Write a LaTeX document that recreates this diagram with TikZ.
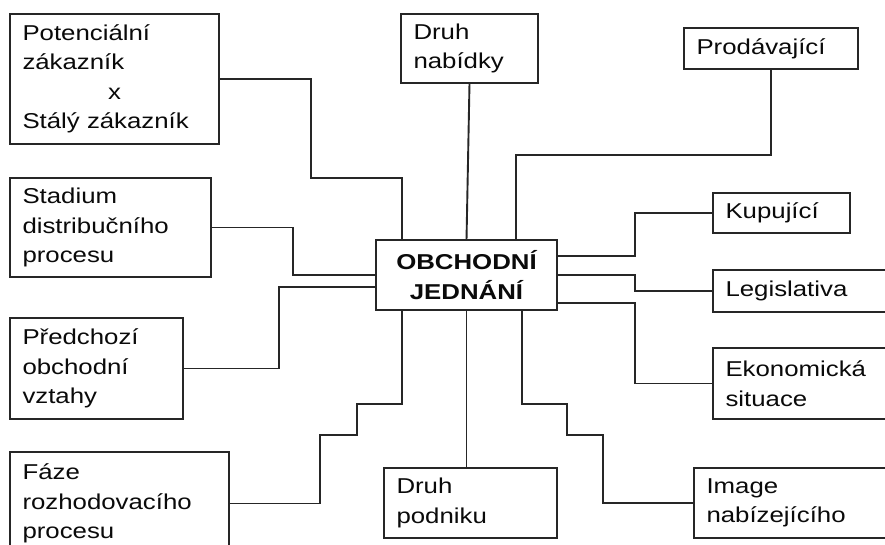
\documentclass[tikz,border=0pt]{standalone}
\usepackage{fontspec}
\setmainfont[FakeStretch=1.2]{Liberation Sans}
\usetikzlibrary{calc}
\definecolor{wire}{HTML}{262626}
\definecolor{ink}{HTML}{0A0A0A}

\begin{document}
\begin{tikzpicture}[x=1pt,y=-1pt,line join=miter]
  \tikzset{
    box/.style={draw=wire,line width=1.9pt,fill=white,anchor=north west,outer sep=0pt,inner xsep=12.5pt,inner ysep=0pt,align=left,text=ink,font=\fontsize{21.5}{29.5}\selectfont},
    hub/.style={box,align=center,font=\fontsize{21.5}{29.5}\selectfont\bfseries},
    link/.style={wire,line width=1.9pt}
  }
  \useasboundingbox (0,0) rectangle (885,545);

  % Left column.
  \node[box,text width=184pt,minimum height=130pt] (pz) at (10,14) {Potenciální\\zákazník\\\makebox[\linewidth]{x}\\Stálý zákazník};
  \node[box,text width=176pt,minimum height=99pt] (sd) at (10,178) {Stadium\\distribučního\\procesu};
  \node[box,text width=148pt,minimum height=101pt] (pr) at (10,318) {Předchozí\\obchodní\\vztahy};
  \node[box,text width=194pt,minimum height=103pt] (fr) at (10,452) {Fáze\\rozhodovacího\\procesu};

  % Middle.
  \node[box,text width=112pt,minimum height=69pt] (dn) at (401,14) {Druh\\nabídky};
  \node[hub,text width=156pt,minimum height=70pt] (ob) at (376,240) {OBCHODNÍ\\JEDNÁNÍ};
  \node[box,text width=148pt,minimum height=70pt] (dp) at (384,468) {Druh\\podniku};

  % Right column.
  \node[box,text width=149pt,minimum height=41pt] (pv) at (684,28) {Prodávající};
  \node[box,text width=112pt,minimum height=40pt] (ku) at (713,193) {Kupující};
  \node[box,text width=165pt,minimum height=42pt] (lg) at (713,270) {Legislativa};
  \node[box,text width=165pt,minimum height=71pt] (ek) at (713,348) {Ekonomická\\situace};
  \node[box,text width=175pt,minimum height=70pt] (im) at (694,468) {Image\\nabízejícího};

  % Connectors.
  \draw[link] (pz.east) -| (311,178) -| ($(ob.north west)+(26,0)$);
  \draw[link] (sd.east) -| (293,275) -- (ob.west);
  \draw[link] ($(ob.west)+(0,12)$) -| (279,368.5) -- (pr.east);
  \draw[link] ($(ob.south west)+(26,0)$) |- (357,404) |- (320,435) |- (fr.east);
  \draw[link] (dn.south) -- (ob.north);
  \draw[link] (ob.south) -- (ob.south |- dp.north);
  \draw[link] (pv.south) -- ++(0,86) -| ($(ob.north east)+(-41,0)$);
  \draw[link] (ku.west) -| (635,256) -- ($(ob.east)+(0,-19)$);
  \draw[link] (ob.east) -| (635,291) -- (lg.west);
  \draw[link] ($(ob.east)+(0,28)$) -| (635,383.5) -- (ek.west);
  \draw[link] ($(ob.south east)+(-35,0)$) |- (567,404) |- (603,435) |- (im.west);
\end{tikzpicture}
\end{document}
